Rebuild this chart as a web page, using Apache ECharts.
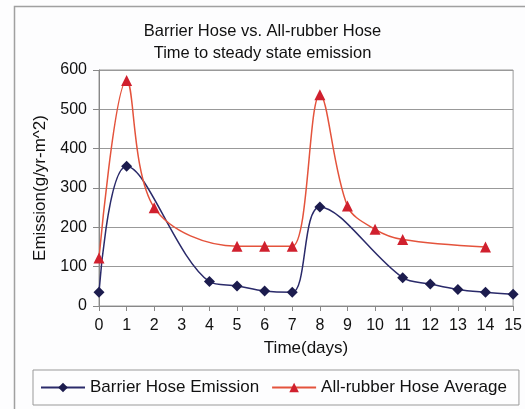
<!DOCTYPE html>
<html>
<head>
<meta charset="utf-8">
<script src="https://cdn.jsdelivr.net/npm/echarts@6/dist/echarts.min.js"></script>
<style>
html,body{margin:0;padding:0;background:#fff;}
#chart{width:525px;height:409px;}
</style>
</head>
<body>
<div id="chart"></div>
<script>
var titleLines = ['Barrier Hose vs. All-rubber Hose', 'Time to steady state emission'];
var xAxisName = 'Time(days)';
var yAxisName = 'Emission(g/yr-m^2)';
var barrierName = 'Barrier Hose Emission';
var rubberName = 'All-rubber Hose Average';
var barrierDays = [0, 1, 4, 5, 6, 7, 8, 11, 12, 13, 14, 15];
var barrierValues = [35, 355, 62, 51, 38, 35, 252, 72, 56, 42, 35, 30];
var rubberDays = [0, 1, 2, 5, 6, 7, 8, 9, 10, 11, 14];
var rubberValues = [122, 573, 250, 152, 152, 152, 537, 254, 195, 169, 150];

function pairs(xs, ys) { return xs.map(function (x, i) { return [x, ys[i]]; }); }

var font = 'Liberation Sans, Arial, sans-serif';
var chart = echarts.init(document.getElementById('chart'), null, {renderer: 'canvas'});
chart.setOption({
  backgroundColor: '#fdfdfe',
  animation: false,
  textStyle: {fontFamily: font},
  graphic: [{
    type: 'rect', shape: {x: 14.5, y: 6.5, width: 530, height: 420},
    style: {fill: 'none', stroke: '#a0a0a0', lineWidth: 1.5}, silent: true
  }],
  title: {
    text: titleLines.join('\n'),
    left: 'center', top: 15,
    textStyle: {fontFamily: font, fontSize: 16.5, fontWeight: 'normal', color: '#111', lineHeight: 22}
  },
  grid: {left: 99, right: 9, top: 70, bottom: 103, show: true, borderColor: '#999', borderWidth: 1, backgroundColor: '#fff'},
  legend: {
    top: 370, left: 33,
    padding: [9, 12, 9, 7],
    borderColor: '#999', borderWidth: 1,
    itemWidth: 44, itemHeight: 12, itemGap: 12,
    textStyle: {fontFamily: font, fontSize: 17, color: '#111'},
    data: [barrierName, rubberName]
  },
  xAxis: {
    type: 'value', min: 0, max: 15, interval: 1,
    name: xAxisName, nameLocation: 'middle', nameGap: 34,
    nameTextStyle: {fontFamily: font, fontSize: 17, color: '#111'},
    axisLine: {lineStyle: {color: '#888'}},
    axisTick: {show: true, length: 5, lineStyle: {color: '#888'}},
    axisLabel: {fontFamily: font, fontSize: 16, color: '#111', margin: 12},
    splitLine: {show: false}
  },
  yAxis: {
    type: 'value', min: 0, max: 600, interval: 100,
    name: yAxisName, nameLocation: 'middle', nameGap: 50,
    nameTextStyle: {fontFamily: font, fontSize: 17, color: '#111'},
    axisLine: {show: true, lineStyle: {color: '#888'}},
    axisTick: {show: true, length: 6, lineStyle: {color: '#888'}},
    axisLabel: {fontFamily: font, fontSize: 16, color: '#111', margin: 12},
    splitLine: {show: true, lineStyle: {color: '#999', width: 1}}
  },
  series: [{
    name: barrierName, type: 'line', smooth: 0.35,
    data: pairs(barrierDays, barrierValues),
    symbol: 'diamond', symbolSize: 11,
    lineStyle: {color: '#2a2a6a', width: 1.5},
    itemStyle: {color: '#1c1c4e'}
  }, {
    name: rubberName, type: 'line', smooth: 0.35,
    data: pairs(rubberDays, rubberValues),
    symbol: 'triangle', symbolSize: 11,
    lineStyle: {color: '#e4533c', width: 1.5},
    itemStyle: {color: '#d0202e'}
  }]
});
</script>
</body>
</html>
